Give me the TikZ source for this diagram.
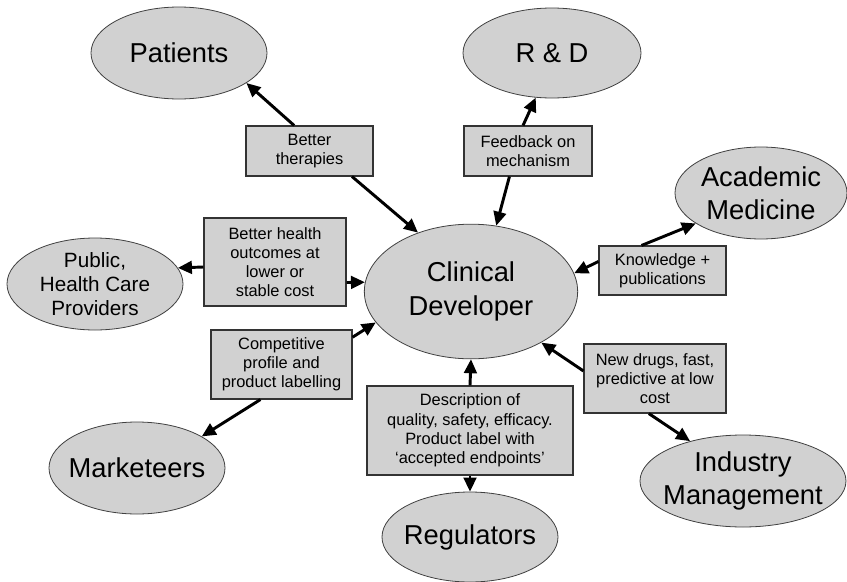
\documentclass[tikz,border=0pt]{standalone}
\usepackage{fontspec}
\setmainfont{Liberation Sans}
\usepackage{tikz}
\usetikzlibrary{shapes,arrows.meta}
\tikzset{
  party/.style={ellipse, draw=black!75, fill=black!18, line width=0.6pt, inner sep=-40pt, align=center, font=\fontsize{20.5}{25}\selectfont},
  topic/.style={rectangle, draw=black!80, fill=black!18, line width=0.8pt, inner sep=1pt, align=center, font=\fontsize{12.3}{14.4}\selectfont},
  flow/.style={-{Triangle[length=10.5pt,width=9.5pt]}, line width=2.2pt}
}
\newcommand{\partynode}[6][] {\node at (#2) (#3) [party, minimum width=#4, minimum height=#5, #1] {#6};}
\newcommand{\topicnode}[5] {\node at (#1) (#2) [topic, minimum width=#3, minimum height=#4] {#5};}
\newcommand{\flowlink}[2] {\draw [flow] (#1) -- (#2);}

\begin{document}
\begin{tikzpicture}[x=0.75pt, y=-0.75pt]
\useasboundingbox (0,0) rectangle (847,582);

\partynode {471,291.5} {cd} {160pt} {101pt} {Clinical\\Developer};
\partynode {179,53} {patients} {132pt} {69pt} {Patients};
\partynode {552,53} {rd} {133.5pt} {67.5pt} {R \& D};
\partynode {761,193} {academic} {129pt} {69pt} {Academic\\Medicine};
\partynode[font=\fontsize{15.5}{18}\selectfont] {95,284} {public} {132pt} {69pt} {Public,\\Health Care\\Providers};
\partynode {137,468} {marketeers} {132pt} {69pt} {Marketeers};
\partynode {470,537} {regulators} {132pt} {67.5pt} {Regulators};
\partynode {743,481} {industry} {154.5pt} {69pt} {Industry\\Management};

\topicnode {309.5,151} {therapy} {95.25pt} {37.5pt} {Better\\therapies};
\topicnode {275,262} {health} {106.5pt} {66pt} {Better health\\outcomes at\\lower or\\stable cost};
\topicnode {528,151} {feedback} {96pt} {37.5pt} {Feedback on\\mechanism};
\topicnode {662.5,270.5} {knowledge} {95.25pt} {36.75pt} {Knowledge +\\publications};
\topicnode {281.5,364.5} {competitive} {105.75pt} {51.75pt} {Competitive\\profile and\\product labelling};
\topicnode {470,430.5} {desc} {154.5pt} {66.75pt} {Description of\\quality, safety, efficacy.\\Product label with\\`accepted endpoints'};
\topicnode {655,378.5} {newdrugs} {106.5pt} {51.75pt} {New drugs, fast,\\predictive at low\\cost};

\flowlink{therapy.121}{patients.-24};
\flowlink{therapy.-31}{cd.132};
\flowlink{health.184}{public.11};
\flowlink{health.-16}{cd.175};
\flowlink{feedback.101}{rd.-110};
\flowlink{feedback.-126}{cd.69};
\flowlink{knowledge.130}{academic.205};
\flowlink{knowledge.172}{cd.10};
\flowlink{competitive.21}{cd.198};
\flowlink{competitive.-121}{marketeers.26};
\flowlink{desc.north}{cd.south};
\flowlink{desc.south}{regulators.north};
\flowlink{newdrugs.174}{cd.-36};
\flowlink{newdrugs.-100}{industry.143};
\end{tikzpicture}
\end{document}
